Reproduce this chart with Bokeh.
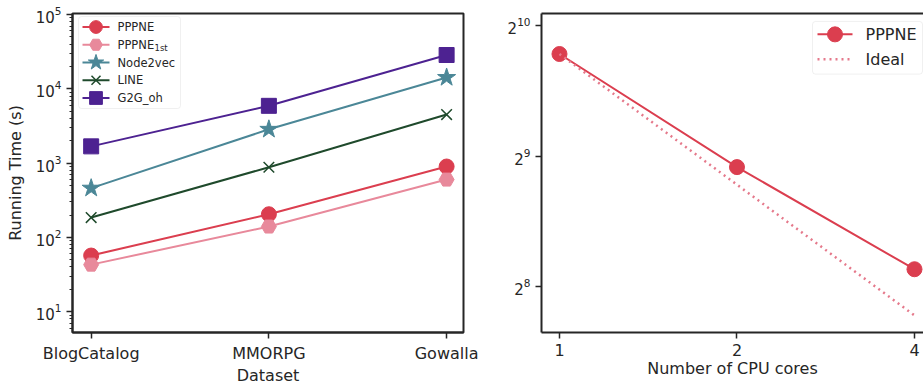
from bokeh.plotting import figure
from bokeh.models import (FixedTicker, Range1d, LogAxis, LinearScale,
                          LogTickFormatter, LogTicker, BoxAnnotation)
from bokeh.core.properties import value
from bokeh.layouts import row
from bokeh.embed import file_html
from bokeh.resources import INLINE

# ---------------- data ----------------
datasets = ["BlogCatalog", "MMORPG", "Gowalla"]
pppne = [57, 205, 900]
pppne_1st = [43, 140, 600]
node2vec = [460, 2850, 14200]
line_m = [185, 880, 4500]
g2g_oh = [1680, 5900, 28500]

cores = [1, 2, 4]
pppne_cores = [880, 483, 281]
ideal_cores = [880, 440, 220]

FONT = "DejaVu Sans"
TXT = "#262626"
RED = "#db3e4f"
PINK = "#e8899b"
TEAL = "#4b8797"
GREEN = "#1f4a2c"
PURPLE = "#4d2291"
IDEAL = "#e5798b"


def style_axis(ax, size="16px"):
    ax.axis_line_width = 2
    ax.axis_line_color = TXT
    ax.major_tick_line_width = 1.5
    ax.major_tick_line_color = TXT
    ax.minor_tick_line_color = TXT
    ax.minor_tick_line_width = 1
    ax.major_tick_in = 0
    ax.major_tick_out = 6
    ax.minor_tick_in = 0
    ax.minor_tick_out = 3
    ax.major_label_text_font = FONT
    ax.major_label_text_font_size = size
    ax.major_label_text_color = TXT
    ax.axis_label_text_font = FONT
    ax.axis_label_text_font_size = "16px"
    ax.axis_label_text_font_style = "normal"
    ax.axis_label_text_color = TXT
    ax.major_label_standoff = 5


def add_pixel_space(p, w, h):
    # a ranges pair measured in frame pixels (origin top-left), for the legend
    p.extra_x_ranges = {"px": Range1d(0, w)}
    p.extra_y_ranges = {"px": Range1d(h, 0)}
    p.extra_x_scales = {"px": LinearScale()}
    p.extra_y_scales = {"px": LinearScale()}


def draw_legend(p, entries, box, x0, x1, xt, y_first, dy, fsize, msize_scale=1.0):
    l, r, t, b = box
    p.add_layout(BoxAnnotation(left=l, right=r, top=t, bottom=b,
                               x_range_name="px", y_range_name="px",
                               fill_color="white", fill_alpha=0.85,
                               line_color="#cccccc", line_width=1, border_radius=3))
    for k, (name, sub, col, mk, sz, dash) in enumerate(entries):
        y = y_first + k * dy
        p.line([x0, x1], [y, y], line_color=col, line_width=2 if not dash else 2.5,
               line_dash=dash if dash else "solid",
               x_range_name="px", y_range_name="px", level="overlay")
        if mk is not None:
            if mk == "x":
                p.scatter([(x0 + x1) / 2], [y], marker=mk, size=sz * msize_scale, line_color=col,
                          line_width=1.5, x_range_name="px", y_range_name="px", level="overlay")
            else:
                p.scatter([(x0 + x1) / 2], [y], marker=mk, size=sz * msize_scale, fill_color=col,
                          line_color=col, x_range_name="px", y_range_name="px", level="overlay")
        p.text([xt], [y], text=[name], text_font=value(FONT), text_font_size=fsize,
               text_color=TXT, text_baseline="middle", text_align="left",
               x_range_name="px", y_range_name="px", level="overlay")
        if sub:
            p.text([xt + 37], [y + 3.5], text=[sub], text_font=value(FONT), text_font_size="8.5px",
                   text_color=TXT, text_baseline="middle", text_align="left",
                   x_range_name="px", y_range_name="px", level="overlay")


# ---------------- left plot ----------------
FW1, FH1 = 391, 319
p1 = figure(width=480, height=388, y_axis_type="log",
            x_range=Range1d(-0.105, 2.095), y_range=Range1d(5.25, 10 ** 5.0135),
            output_backend="svg", toolbar_location=None,
            min_border_left=72, min_border_right=17, min_border_top=13, min_border_bottom=56)
add_pixel_space(p1, FW1, FH1)
p1.xgrid.visible = False
p1.ygrid.visible = False
p1.outline_line_color = TXT
p1.outline_line_width = 2
p1.outline_line_alpha = 1
style_axis(p1.xaxis[0])
style_axis(p1.yaxis[0], "15px")
p1.xaxis[0].ticker = FixedTicker(ticks=[0, 1, 2])
p1.xaxis[0].major_label_overrides = {i: d for i, d in enumerate(datasets)}
p1.xaxis[0].axis_label = "Dataset"
p1.xaxis[0].axis_label_standoff = 0
minor = [k * 10 ** d for d in range(0, 5) for k in range(2, 10)]
p1.yaxis[0].ticker = FixedTicker(ticks=[10, 100, 1000, 10000, 100000], minor_ticks=minor)
p1.yaxis[0].formatter = LogTickFormatter(ticker=LogTicker(base=10))
p1.yaxis[0].axis_label = "Running Time (s)"
p1.yaxis[0].axis_label_standoff = 8

xs = [0, 1, 2]
series = [
    ("PPPNE", "", pppne, RED, "circle", 15),
    ("PPPNE", "1st", pppne_1st, PINK, "hex", 15),
    ("Node2vec", "", node2vec, TEAL, "star", 19),
    ("LINE", "", line_m, GREEN, "x", 15),
    ("G2G_oh", "", g2g_oh, PURPLE, "square", 15),
]
for name, sub, vals, col, mk, sz in series:
    p1.line(xs, vals, line_color=col, line_width=2)
    if mk == "x":
        p1.scatter(xs, vals, marker=mk, size=sz, line_color=col, line_width=1.5)
    else:
        p1.scatter(xs, vals, marker=mk, size=sz, fill_color=col, line_color=col, line_width=1)

draw_legend(p1, [(n, s, c, m, z, None) for n, s, v, c, m, z in series],
            box=(6, 108, 3, 95), x0=10, x1=37, xt=45, y_first=13.5, dy=17.75,
            fsize="11.5px", msize_scale=0.85)

# ---------------- right plot ----------------
FW2, FH2 = 382, 321
p2 = figure(width=443, height=388, x_axis_type="log", y_axis_type="log",
            x_range=Range1d(0.9322, 4.1434), y_range=Range1d(200.9, 1090.9),
            output_backend="svg", toolbar_location=None,
            min_border_left=61, min_border_right=0, min_border_top=11, min_border_bottom=56)
add_pixel_space(p2, FW2, FH2)
p2.xgrid.visible = False
p2.ygrid.visible = False
p2.outline_line_color = None
style_axis(p2.xaxis[0])
style_axis(p2.yaxis[0], "15px")
p2.xaxis[0].ticker = FixedTicker(ticks=cores, minor_ticks=[])
p2.xaxis[0].major_label_overrides = {1: "1", 2: "2", 4: "4"}
p2.xaxis[0].axis_label = "Number of CPU cores"
p2.xaxis[0].axis_label_standoff = 0
p2.yaxis[0].ticker = FixedTicker(ticks=[256, 512, 1024], minor_ticks=[])
p2.yaxis[0].formatter = LogTickFormatter(ticker=LogTicker(base=2))

top = LogAxis(ticker=FixedTicker(ticks=[], minor_ticks=[]))
top.axis_line_width = 2
top.axis_line_color = TXT
top.major_label_text_font_size = "0px"
top.major_tick_out = 0
top.minor_tick_out = 0
p2.add_layout(top, "above")

p2.line(cores, pppne_cores, line_color=RED, line_width=2)
p2.scatter(cores, pppne_cores, marker="circle", size=15, fill_color=RED, line_color=RED)
p2.line(cores, ideal_cores, line_color=IDEAL, line_width=2.5, line_dash="2 4")

draw_legend(p2, [("PPPNE", "", RED, "circle", 15, None),
                 ("Ideal", "", IDEAL, None, 0, "2 4")],
            box=(271, 381, 8, 61), x0=276, x1=311, xt=324, y_first=21, dy=25,
            fsize="16px")

layout = row(p1, p2)
open("out.html", "w").write(file_html(layout, INLINE))
